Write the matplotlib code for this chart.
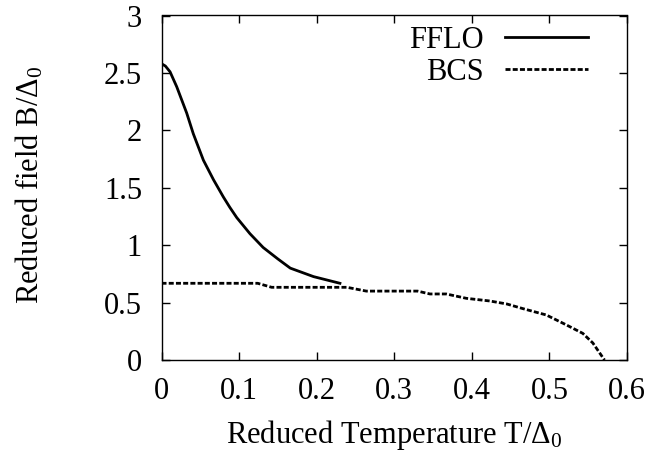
import numpy as np
from matplotlib import pyplot as plt

plt.rcParams['font.family'] = 'Liberation Serif'
plt.rcParams['mathtext.fontset'] = 'custom'
plt.rcParams['mathtext.rm'] = 'Liberation Serif'
plt.rcParams['mathtext.it'] = 'Liberation Serif'

# FFLO curve
t_fflo = [0.0, 0.005, 0.011, 0.0196, 0.0325, 0.041, 0.054, 0.067, 0.0797, 0.088,
          0.097, 0.114, 0.131, 0.15, 0.166, 0.196, 0.23]
b_fflo = [2.58, 2.56, 2.51, 2.38, 2.15, 1.97, 1.74, 1.57, 1.42, 1.33,
          1.24, 1.10, 0.98, 0.88, 0.80, 0.726, 0.668]

# BCS curve
t_bcs = [0.0, 0.124, 0.142, 0.239, 0.264, 0.281, 0.33, 0.346, 0.367, 0.393, 0.423,
         0.445, 0.466, 0.496, 0.522, 0.543, 0.556, 0.571]
b_bcs = [0.668, 0.668, 0.633, 0.633, 0.60, 0.60, 0.60, 0.575, 0.575, 0.537, 0.514,
         0.488, 0.447, 0.392, 0.305, 0.232, 0.148, 0.0]

xticks = [0, 0.1, 0.2, 0.3, 0.4, 0.5, 0.6]
xticklabels = ["0", "0.1", "0.2", "0.3", "0.4", "0.5", "0.6"]
yticks = [0, 0.5, 1, 1.5, 2, 2.5, 3]
yticklabels = ["0", "0.5", "1", "1.5", "2", "2.5", "3"]

fs = 22

fig = plt.figure(figsize=(6.53, 4.61), dpi=100)
ax = fig.add_axes([161.5 / 653, 1 - 360 / 461, (627 - 161.5) / 653, (360 - 15.5) / 461])

ax.plot(t_fflo, b_fflo, color="black", linewidth=2, label="FFLO")
ax.plot(t_bcs, b_bcs, color="black", linewidth=2, linestyle=(0, (1.8, 0.8)), label="BCS")

ax.set_xlim(0, 0.6)
ax.set_ylim(0, 3)
ax.set_xticks(xticks)
ax.set_xticklabels(xticklabels)
ax.set_yticks(yticks)
ax.set_yticklabels(yticklabels)
ax.tick_params(direction="in", length=6, width=1, top=True, right=True, labelsize=fs)
ax.tick_params(axis="x", pad=12)
ax.tick_params(axis="y", pad=14)
for s in ax.spines.values():
    s.set_linewidth(1)

ax.set_xlabel(r"Reduced Temperature T/$\mathrm{\Delta}_0$", fontsize=fs, va="baseline")
ax.xaxis.set_label_coords(0.5, (360 - 443) / 344.5)
ax.set_ylabel(r"Reduced field B/$\mathrm{\Delta}_0$", fontsize=fs, va="baseline")
ax.yaxis.set_label_coords((38 - 161.5) / 465.5, 0.51)

leg = ax.legend(loc="upper right", fontsize=fs, frameon=False, markerfirst=False,
                handlelength=2.7, handletextpad=0.7, borderaxespad=0, borderpad=0,
                labelspacing=0.1, bbox_to_anchor=(0.916, 0.97))

plt.savefig("out.png", dpi=100)
